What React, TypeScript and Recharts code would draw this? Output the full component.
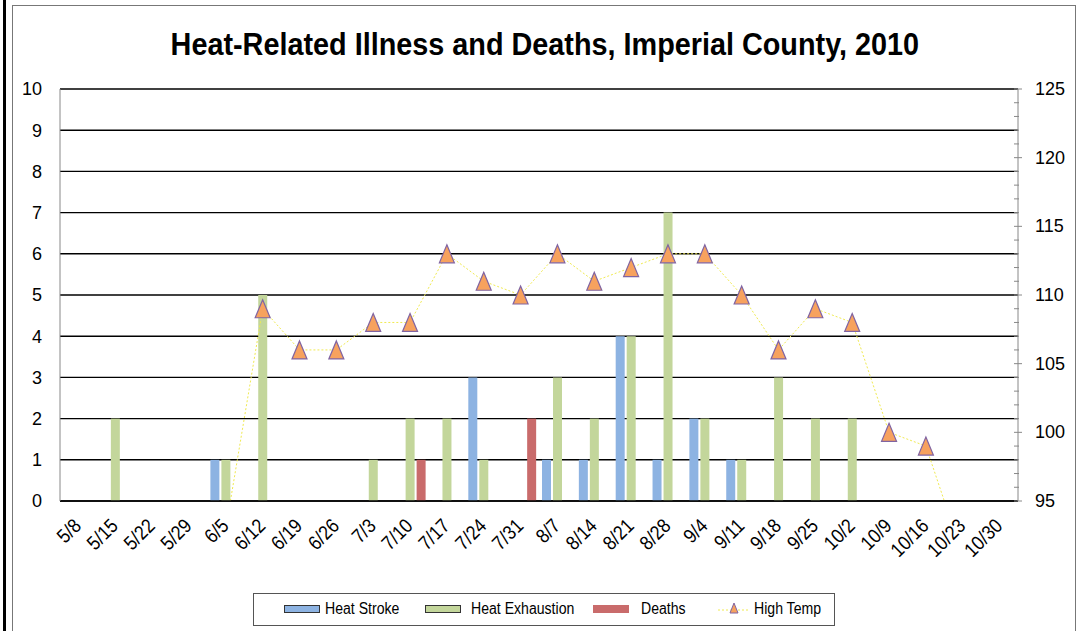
import { Bar, CartesianGrid, ComposedChart, Line, XAxis, YAxis } from 'recharts'

const CATEGORIES = [
  '5/8', '5/15', '5/22', '5/29', '6/5', '6/12', '6/19', '6/26', '7/3', '7/10', '7/17', '7/24', '7/31',
  '8/7', '8/14', '8/21', '8/28', '9/4', '9/11', '9/18', '9/25', '10/2', '10/9', '10/16', '10/23', '10/30',
]
const HEAT_STROKE = [0, 0, 0, 0, 1, 0, 0, 0, 0, 0, 0, 3, 0, 1, 1, 4, 1, 2, 1, 0, 0, 0, 0, 0, 0, 0]
const HEAT_EXHAUSTION = [0, 2, 0, 0, 1, 5, 0, 0, 1, 2, 2, 1, 0, 3, 2, 4, 7, 2, 1, 3, 2, 2, 0, 0, 0, 0]
const DEATHS = [0, 0, 0, 0, 0, 0, 0, 0, 0, 1, 0, 0, 2, 0, 0, 0, 0, 0, 0, 0, 0, 0, 0, 0, 0, 0]
const HIGH_TEMP: (number | null)[] = [
  null, null, null, null, 93, 109, 106, 106, 108, 108, 113, 111, 110,
  113, 111, 112, 113, 113, 110, 106, 109, 108, 100, 99, 91, null,
]

const LEFT_TICKS = [0, 1, 2, 3, 4, 5, 6, 7, 8, 9, 10]
const RIGHT_TICKS = [95, 96, 97, 98, 99, 100, 101, 102, 103, 104, 105, 106, 107, 108, 109, 110,
  111, 112, 113, 114, 115, 116, 117, 118, 119, 120, 121, 122, 123, 124, 125]

const FONT = "'Liberation Sans', Arial, sans-serif"

const data = CATEGORIES.map((week, i) => ({
  week,
  stroke: HEAT_STROKE[i],
  exhaustion: HEAT_EXHAUSTION[i],
  deaths: DEATHS[i],
  temp: HIGH_TEMP[i],
}))

function WeekTick({ x, y, payload }: any) {
  const px = x + 4
  const py = y + 26
  return (
    <text x={0} y={0} textAnchor="end" fontSize={20} fontFamily={FONT} fill="#000"
      transform={`translate(${px}, ${py}) rotate(-45) scale(0.88, 1)`}>
      {payload.value}
    </text>
  )
}

function TempTick({ x, y, payload }: any) {
  const major = payload.value % 5 === 0
  return (
    <g>
      <line x1={x - 4} x2={major ? x + 4 : x + 1} y1={y} y2={y} stroke="#888" />
      {major && (
        <text x={x + 17} y={y} dy={6} fontSize={18} fontFamily={FONT} fill="#000">
          {payload.value}
        </text>
      )}
    </g>
  )
}

function Triangle({ cx, cy, value }: any) {
  if (value == null || value < 95 || cx == null) return null
  return (
    <path
      d={`M${cx},${cy - 9} L${cx + 7.5},${cy + 9} L${cx - 7.5},${cy + 9} Z`}
      fill="#F7A25E"
      stroke="#8064A2"
      strokeWidth={1.2}
    />
  )
}

function LegendBox() {
  const label = (left: number, text: string) => (
    <span style={{ position: 'absolute', left, top: 6, whiteSpace: 'nowrap', display: 'inline-block',
      transform: 'scaleX(0.88)', transformOrigin: 'left center' }}>{text}</span>
  )
  const swatch = (left: number, fill: string, border: string) => (
    <span style={{ position: 'absolute', left, top: 11, width: 36, height: 8, background: fill,
      border: `1px solid ${border}`, boxSizing: 'border-box' }} />
  )
  return (
    <div style={{
      position: 'absolute', left: 253, top: 593, width: 582, height: 33, border: '1px solid #555',
      boxSizing: 'border-box', fontFamily: FONT, fontSize: 16, lineHeight: '18px', color: '#000', background: '#fff',
    }}>
      {swatch(30, '#8DB3E2', '#333')}
      {label(71, 'Heat Stroke')}
      {swatch(171, '#C3D69B', '#333')}
      {label(217, 'Heat Exhaustion')}
      {swatch(339, '#C96B6B', '#C96B6B')}
      {label(387, 'Deaths')}
      <svg style={{ position: 'absolute', left: 464, top: 7 }} width={32} height={14}>
        <line x1={0} x2={32} y1={9} y2={9} stroke="#F0EA50" strokeDasharray="2 2" />
        <path d="M16,2 L20,12 L12,12 Z" fill="#F7A25E" stroke="#8064A2" />
      </svg>
      {label(500, 'High Temp')}
    </div>
  )
}

export default function App() {
  return (
    <div style={{ position: 'absolute', left: 0, top: 0, width: 1081, height: 631, background: '#fff', overflow: 'hidden' }}>
      <div style={{ position: 'absolute', left: 3, top: 0, width: 3, height: 631, background: '#000' }} />
      <div style={{ position: 'absolute', left: 12, top: 5, width: 1064, height: 640, border: '1px solid #777', boxSizing: 'border-box' }} />
      <div style={{ position: 'absolute', left: 0, top: 24, width: 1090, textAlign: 'center' }}>
        <span style={{
          display: 'inline-block', transform: 'scaleX(0.9)', fontFamily: FONT, fontWeight: 'bold',
          fontSize: 32, lineHeight: '40px', color: '#000', whiteSpace: 'nowrap',
        }}>
          Heat-Related Illness and Deaths, Imperial County, 2010
        </span>
      </div>
      <div style={{ position: 'absolute', left: 0, top: 0 }}>
        <ComposedChart width={1081} height={631} data={data} barSize={9} barGap={2}
          margin={{ top: 89, right: 0, bottom: 70, left: 0 }}>
          <CartesianGrid yAxisId="left" vertical={false} stroke="#000" strokeWidth={1.4} horizontalValues={LEFT_TICKS} />
          <XAxis dataKey="week" height={60} interval={0} tick={<WeekTick />} tickLine={false} tickSize={0}
            tickMargin={0} axisLine={{ stroke: '#000', strokeWidth: 1.4 }} />
          <YAxis yAxisId="left" width={60} domain={[0, 10]} ticks={LEFT_TICKS} tickLine={false}
            axisLine={{ stroke: '#888' }} tickMargin={12}
            tick={{ fontSize: 18, fontFamily: FONT, fill: '#000' }} />
          <YAxis yAxisId="right" orientation="right" width={63} domain={[95, 125]} ticks={RIGHT_TICKS}
            allowDataOverflow interval={0} tickLine={false} tickSize={0} tickMargin={0}
            axisLine={{ stroke: '#888' }} tick={<TempTick />} />
          <Bar yAxisId="left" dataKey="stroke" name="Heat Stroke" fill="#8DB3E2" stroke="#333" strokeWidth={1.2} isAnimationActive={false} />
          <Bar yAxisId="left" dataKey="exhaustion" name="Heat Exhaustion" fill="#C3D69B" stroke="#333" strokeWidth={1.2} isAnimationActive={false} />
          <Bar yAxisId="left" dataKey="deaths" name="Deaths" fill="#C96B6B" isAnimationActive={false} />
          <Line yAxisId="right" dataKey="temp" name="High Temp" stroke="#F0EA50" strokeWidth={1}
            strokeDasharray="2 2" dot={<Triangle />} activeDot={false} isAnimationActive={false} />
        </ComposedChart>
      </div>
      <LegendBox />
    </div>
  )
}
